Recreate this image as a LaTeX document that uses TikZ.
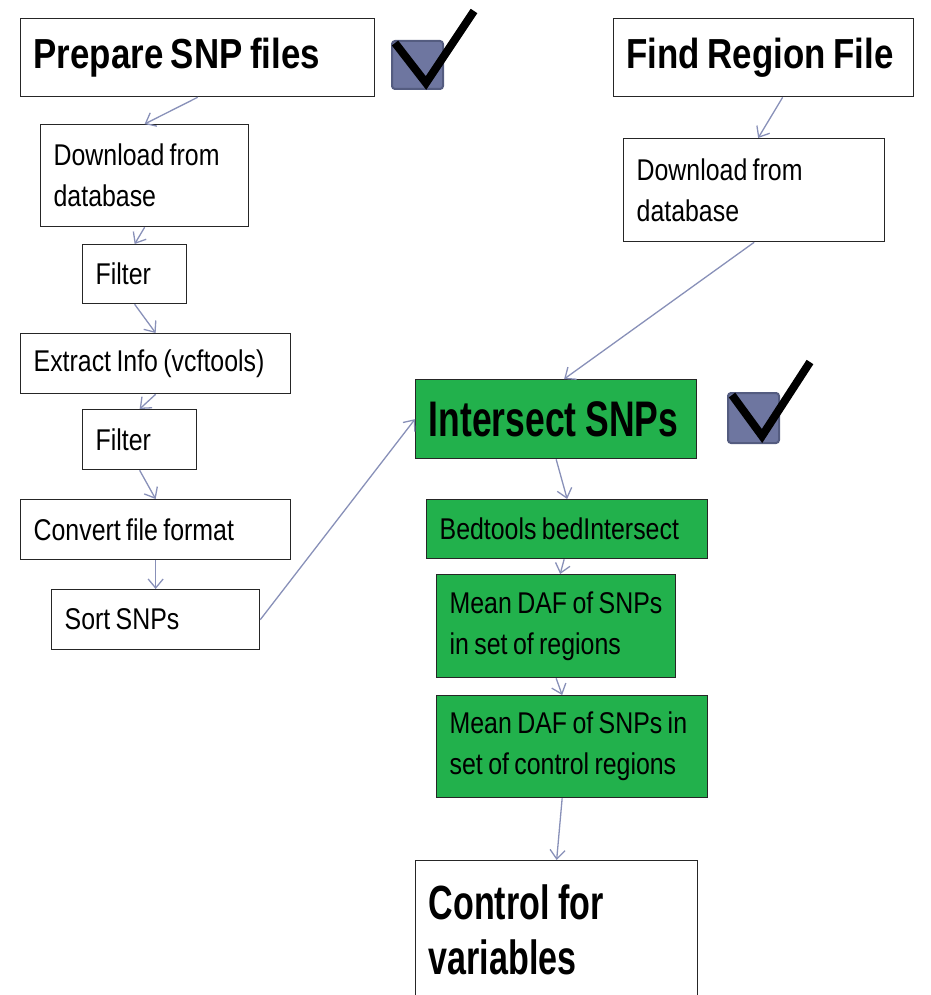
\documentclass[tikz,border=0pt]{standalone}
\usepackage{fontspec}
\setmainfont{Liberation Sans}[FakeStretch=0.83]
\newfontfamily\narrowbold{Liberation Sans}[FakeStretch=0.71]
\usetikzlibrary{arrows.meta}

\definecolor{boxgreen}{RGB}{34,177,76}
\definecolor{linkblue}{RGB}{136,144,184}
\definecolor{tickfill}{RGB}{110,118,160}
\definecolor{tickedge}{RGB}{84,92,128}

\newcommand{\tightwords}{\spaceskip=0.18em\relax}

\tikzset{
	box/.style={draw=black!85, line width=1.3pt, anchor=north west, align=left,
		inner xsep=13pt, inner ysep=0pt, font=\fontsize{30}{41}\selectfont,
		execute at begin node=\tightwords},
	title/.style={box, font=\fontsize{42}{50}\selectfont\bfseries},
	greenbox/.style={box, fill=boxgreen},
	link/.style={draw=linkblue, line width=1.3pt, -{Straight Barb[length=9pt,width=15pt]}},
}

\begin{document}
\begin{tikzpicture}[x=1pt, y=-1pt]
	\useasboundingbox (0,0) rectangle (930,995);
	\clip (0,0) rectangle (930,995);

	\node[title, text width=328pt, minimum height=78pt] (prep) at (20,18) {Prepare SNP files};
	\node[title, text width=274pt, minimum height=78pt] (find) at (613,18) {Find Region File};

	\node[box, text width=182pt, minimum height=102pt] (dlsnp) at (40,124) {Download from\\database};
	\node[box, text width=78pt, minimum height=59pt] (filtera) at (82,244) {Filter};
	\node[box, text width=244pt, minimum height=60pt] (extract) at (20,333) {Extract Info (vcftools)};
	\node[box, text width=88pt, minimum height=60pt] (filterb) at (82,409) {Filter};
	\node[box, text width=244pt, minimum height=60pt] (convert) at (20,499) {Convert file format};
	\node[box, text width=182pt, minimum height=60pt] (sort) at (51,589) {Sort SNPs};

	\node[box, text width=235pt, minimum height=103pt] (dlregion) at (623,138) {Download from\\database};

	\node[greenbox, text width=255pt, minimum height=79pt, font=\narrowbold\fontsize{50}{55}\selectfont\bfseries] (intersect) at (415,379) {Intersect SNPs};
	\node[greenbox, text width=255pt, minimum height=59pt] (bedtools) at (426,499) {Bedtools bedIntersect};
	\node[greenbox, text width=213pt, minimum height=103pt] (meanreg) at (436,574) {Mean DAF of SNPs\\in set of regions};
	\node[greenbox, text width=245pt, minimum height=102pt] (meanctrl) at (436,695) {Mean DAF of SNPs in\\set of control regions};

	\node[box, text width=256pt, minimum height=138pt, font=\narrowbold\fontsize{48}{55}\selectfont\bfseries] (control) at (415,860) {Control for\\variables};

	\draw[link] (prep.south) -- (dlsnp.north);
	\draw[link] (dlsnp.south) -- (filtera.north);
	\draw[link] (filtera.south) -- (extract.north);
	\draw[link] (extract.south) -- (filterb.north);
	\draw[link] (filterb.south) -- (convert.north);
	\draw[link] (convert.south) -- (sort.north);
	\draw[link] (sort.east) -- (intersect.west);

	\draw[link] ([xshift=19pt]find.south) -- ([xshift=4pt]dlregion.north);
	\draw[link] (dlregion.south) -- ([xshift=8pt]intersect.north);

	\draw[link] (intersect.south) -- (bedtools.north);
	\draw[link] ([xshift=-3pt]bedtools.south) -- ([xshift=4pt]meanreg.north);
	\draw[link] (meanreg.south) -- ([xshift=-10pt]meanctrl.north);
	\draw[link] ([xshift=-10pt]meanctrl.south) -- (control.north);

	\draw[rounded corners=3pt, fill=tickfill, draw=tickedge, line width=2pt] (392,41) rectangle (443,89);
	\draw[line width=8pt] (395,43) -- (426,83) -- (474,11);
	\draw[rounded corners=3pt, fill=tickfill, draw=tickedge, line width=2pt] (728,393) rectangle (779,443);
	\draw[line width=8pt] (732,395) -- (762,436) -- (810,362);
\end{tikzpicture}
\end{document}
